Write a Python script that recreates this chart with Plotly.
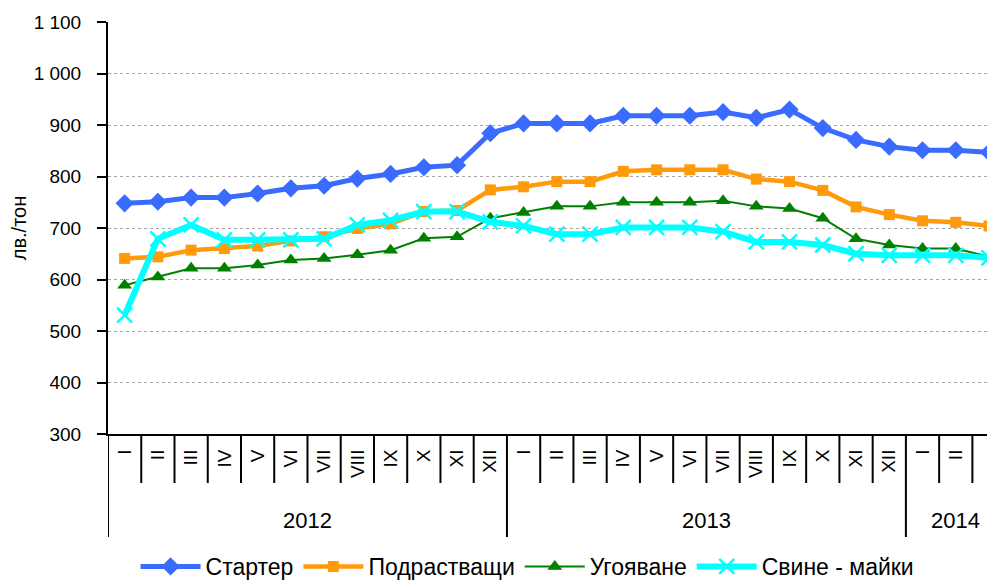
import plotly.graph_objects as go

months = ["I", "II", "III", "IV", "V", "VI", "VII", "VIII", "IX", "X", "XI", "XII",
          "I", "II", "III", "IV", "V", "VI", "VII", "VIII", "IX", "X", "XI", "XII",
          "I", "II", "III"]
years = ["2012", "2013", "2014"]
year_lengths = [12, 12, 3]

starter = [748, 751, 759, 759, 767, 777, 782, 796, 805, 818, 822, 884,
           903, 903, 903, 918, 918, 918, 925, 914, 930, 894, 871, 858, 851, 851, 847]
podrastvashti = [641, 644, 657, 660, 665, 675, 683, 699, 708, 732, 734, 774,
                 780, 790, 790, 810, 813, 813, 813, 795, 790, 773, 741, 726, 714, 711, 704]
ugoyavane = [589, 605, 622, 622, 628, 638, 641, 648, 657, 680, 683, 719,
             730, 742, 742, 750, 750, 750, 753, 742, 738, 719, 679, 667, 660, 660, 644]
svine_maiki = [531, 679, 706, 677, 677, 677, 679, 706, 715, 732, 732, 712,
               704, 688, 688, 701, 701, 701, 693, 673, 673, 667, 650, 647, 647, 647, 642]

FONT = "Liberation Sans, Arial, sans-serif"
x = list(range(len(months)))

fig = go.Figure()
fig.add_trace(go.Scatter(x=x, y=starter, name="Стартер", mode="lines+markers",
                         line=dict(color="#3A6BFF", width=5),
                         marker=dict(symbol="diamond", size=14, color="#3A6BFF")))
fig.add_trace(go.Scatter(x=x, y=podrastvashti, name="Подрастващи", mode="lines+markers",
                         line=dict(color="#FF9A0A", width=4.5),
                         marker=dict(symbol="square", size=11, color="#FF9A0A")))
fig.add_trace(go.Scatter(x=x, y=ugoyavane, name="Угояване", mode="lines+markers",
                         line=dict(color="#008000", width=2),
                         marker=dict(symbol="triangle-up", size=13, color="#008000")))
fig.add_trace(go.Scatter(x=x, y=svine_maiki, name="Свине - майки", mode="lines+markers",
                         line=dict(color="#00FFFF", width=6),
                         marker=dict(symbol="x-thin", size=15,
                                     line=dict(color="#00FFFF", width=2.5))))

shapes = []
boundaries = []
acc = 0
for n in year_lengths:
    boundaries.append(acc - 0.5)
    acc += n
for i in range(len(months)):
    b = i - 0.5
    long = b in boundaries
    shapes.append(dict(type="line", xref="x", yref="paper", x0=b, x1=b,
                       y0=0, y1=-0.25 if long else -0.119,
                       line=dict(color="black", width=2)))

annotations = []
acc = 0
for yname, n in zip(years, year_lengths):
    annotations.append(dict(x=acc + (n - 1) / 2, y=-0.211, xref="x", yref="paper",
                            text=yname, showarrow=False,
                            font=dict(family=FONT, size=22, color="black"),
                            xanchor="center", yanchor="middle"))
    acc += n

fig.update_layout(
    width=987, height=580,
    margin=dict(l=100, r=0, t=14, b=154),
    paper_bgcolor="white", plot_bgcolor="white",
    separators=", ",
    font=dict(family=FONT, size=19, color="black"),
    shapes=shapes, annotations=annotations,
    legend=dict(orientation="h", x=0.473, xanchor="center",
                yref="container", y=-0.027, yanchor="bottom",
                font=dict(family=FONT, size=23, color="black"),
                itemwidth=60, tracegroupgap=0, bgcolor="rgba(0,0,0,0)"),
    showlegend=True,
)
fig.update_xaxes(range=[-0.5, 26.18], tickmode="array", tickvals=x, ticktext=months,
                 tickangle=-90, ticks="", showgrid=False, zeroline=False,
                 showline=True, linecolor="black", linewidth=2, automargin=False,
                 ticklabelstandoff=6,
                 tickfont=dict(family=FONT, size=19, color="black"))
fig.update_yaxes(range=[300, 1100], dtick=100, tickformat=",d",
                 showline=True, linecolor="black", linewidth=2, automargin=False,
                 ticks="outside", ticklen=9, tickwidth=1.5, tickcolor="black",
                 ticklabelstandoff=12,
                 showgrid=True, gridcolor="#A6A6A6", griddash="dot", gridwidth=1,
                 zeroline=False,
                 tickfont=dict(family=FONT, size=19, color="black"),
                 title=dict(text="лв./тон", standoff=4,
                            font=dict(family=FONT, size=20, color="black")))

fig.write_html("out.html")
